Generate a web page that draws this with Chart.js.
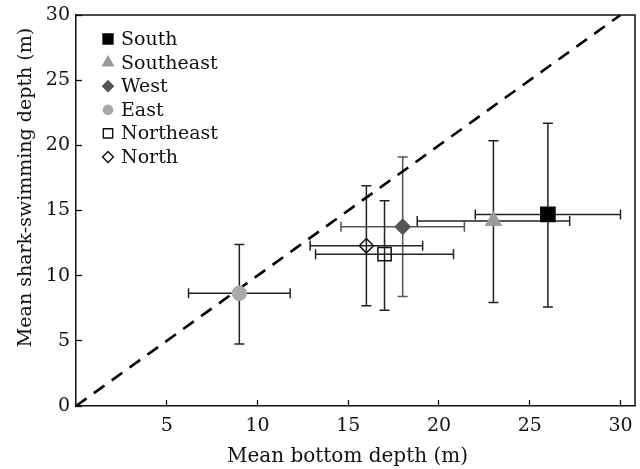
<!DOCTYPE html>
<html>
<head>
  <title>Shark swimming depth vs bottom depth</title>
  <script src="https://cdn.jsdelivr.net/npm/chart.js"></script>
  <style>
    body {
      margin: 0;
      background: white;
    }
    #wrap {
      width: 640px;
      height: 469px;
    }
  </style>
</head>
<body>
  <div id="wrap"><canvas id="chart" width="640" height="469"></canvas></div>

  <script>
    // values (metres)
    const regions = ["South", "Southeast", "West", "East", "Northeast", "North"];
    const bottomDepth = [26.0, 23.0, 18.0, 9.0, 17.0, 16.0];
    const swimDepth = [14.7, 14.2, 13.75, 8.65, 11.65, 12.3];
    const bottomLow = [22.0, 18.8, 14.6, 6.2, 13.2, 12.9];
    const bottomHigh = [30.0, 27.2, 21.4, 11.8, 20.8, 19.1];
    const swimLow = [7.6, 7.95, 8.4, 4.75, 7.35, 7.7];
    const swimHigh = [21.7, 20.35, 19.1, 12.4, 15.75, 16.9];
    const identityLine = [0, 30];
    const xTicks = [5, 10, 15, 20, 25, 30];
    const yTicks = [0, 5, 10, 15, 20, 25, 30];

    const FONT = '"DejaVu Serif", "Liberation Serif", serif';
    const INK = "#111";

    // marker look per region: chart radius and legend radius
    const markers = {
      South:     { style: "rect",     fill: "#000",          line: "#000",    r: 10,  lr: 7 },
      Southeast: { style: "triangle", fill: "#9b9b9b",       line: "#9b9b9b", r: 8.7, lr: 6.2 },
      West:      { style: "rectRot",  fill: "#555",          line: "#555",    r: 7.4, lr: 5.4 },
      East:      { style: "circle",   fill: "#a9a9a9",       line: "#a9a9a9", r: 6.9, lr: 4.6 },
      Northeast: { style: "rect",     fill: "rgba(0,0,0,0)", line: INK,       r: 9.4, lr: 6.6 },
      North:     { style: "rectRot",  fill: "rgba(0,0,0,0)", line: INK,       r: 7.2, lr: 5.4 }
    };
    const barColor = { West: "#555" };

    function drawMarker(ctx, m, x, y, r) {
      ctx.beginPath();
      if (m.style === "rect") {
        const s = r * Math.SQRT1_2;
        ctx.rect(x - s, y - s, 2 * s, 2 * s);
      } else if (m.style === "rectRot") {
        ctx.moveTo(x - r, y); ctx.lineTo(x, y - r); ctx.lineTo(x + r, y); ctx.lineTo(x, y + r);
        ctx.closePath();
      } else if (m.style === "triangle") {
        for (let k = 0; k < 3; k++) {
          const a = k * 2 * Math.PI / 3;
          const px = x + Math.sin(a) * r, py = y - Math.cos(a) * r;
          if (k === 0) ctx.moveTo(px, py); else ctx.lineTo(px, py);
        }
        ctx.closePath();
      } else {
        ctx.arc(x, y, r, 0, 2 * Math.PI);
      }
      ctx.fillStyle = m.fill;
      ctx.strokeStyle = m.line;
      ctx.lineWidth = 1.4;
      ctx.fill();
      ctx.stroke();
    }

    // box around the plot (top and right sides)
    const frame = {
      id: "frame",
      afterDraw(chart) {
        const { ctx, chartArea: a } = chart;
        ctx.save();
        ctx.strokeStyle = INK;
        ctx.lineWidth = 1.5;
        ctx.beginPath();
        ctx.moveTo(a.left, a.top);
        ctx.lineTo(a.right, a.top);
        ctx.lineTo(a.right, a.bottom);
        ctx.stroke();
        ctx.restore();
      }
    };

    // horizontal and vertical error bars with caps
    const errorBars = {
      id: "errorBars",
      beforeDatasetsDraw(chart) {
        const { ctx, scales: { x, y } } = chart;
        const cap = 5;
        ctx.save();
        ctx.lineWidth = 1.5;
        regions.forEach((name, i) => {
          const px = x.getPixelForValue(bottomDepth[i]);
          const py = y.getPixelForValue(swimDepth[i]);
          const x0 = x.getPixelForValue(bottomLow[i]);
          const x1 = x.getPixelForValue(bottomHigh[i]);
          const y0 = y.getPixelForValue(swimLow[i]);
          const y1 = y.getPixelForValue(swimHigh[i]);
          ctx.strokeStyle = barColor[name] || "#222";
          ctx.beginPath();
          ctx.moveTo(x0, py); ctx.lineTo(x1, py);
          ctx.moveTo(x0, py - cap); ctx.lineTo(x0, py + cap);
          ctx.moveTo(x1, py - cap); ctx.lineTo(x1, py + cap);
          ctx.moveTo(px, y0); ctx.lineTo(px, y1);
          ctx.moveTo(px - cap, y0); ctx.lineTo(px + cap, y0);
          ctx.moveTo(px - cap, y1); ctx.lineTo(px + cap, y1);
          ctx.stroke();
        });
        ctx.restore();
      }
    };

    // legend in the top-left corner of the plot
    const legendBox = {
      id: "legendBox",
      afterDraw(chart) {
        const { ctx, chartArea: a } = chart;
        ctx.save();
        ctx.font = "19px " + FONT;
        ctx.textBaseline = "middle";
        regions.forEach((name, i) => {
          const ly = a.top + 24 + i * 23.6;
          drawMarker(ctx, markers[name], a.left + 32, ly, markers[name].lr);
          ctx.fillStyle = INK;
          ctx.fillText(name, a.left + 45, ly + 1);
        });
        ctx.restore();
      }
    };

    // axis titles
    const axisTitles = {
      id: "axisTitles",
      afterDraw(chart) {
        const { ctx } = chart;
        ctx.save();
        ctx.fillStyle = INK;
        ctx.textAlign = "center";
        ctx.textBaseline = "alphabetic";
        ctx.font = "20px " + FONT;
        ctx.fillText("Mean bottom depth (m)", 347.5, 462);
        ctx.font = "19px " + FONT;
        ctx.translate(31, 187.5);
        ctx.rotate(-Math.PI / 2);
        ctx.fillText("Mean shark-swimming depth (m)", 0, 0);
        ctx.restore();
      }
    };

    const pointSets = regions.map((name, i) => ({
      label: name,
      data: [{ x: bottomDepth[i], y: swimDepth[i] }],
      pointStyle: markers[name].style,
      pointRadius: markers[name].r,
      backgroundColor: markers[name].fill,
      borderColor: markers[name].line,
      borderWidth: 1.5,
      order: 1
    }));

    new Chart(document.getElementById("chart"), {
      type: "scatter",
      data: {
        datasets: [
          ...pointSets,
          {
            type: "line",
            label: "1:1",
            data: identityLine.map(v => ({ x: v, y: v })),
            borderColor: "#000",
            borderWidth: 2.6,
            borderDash: [13, 9],
            pointRadius: 0,
            fill: false,
            order: 10
          }
        ]
      },
      options: {
        responsive: false,
        animation: false,
        events: [],
        layout: { autoPadding: false, padding: { top: 15, right: 5, left: 0, bottom: 0 } },
        plugins: {
          legend: { display: false },
          tooltip: { enabled: false }
        },
        scales: {
          x: {
            type: "linear",
            min: 0,
            max: 30.8,
            afterBuildTicks: s => { s.ticks = xTicks.map(v => ({ value: v })); },
            ticks: {
              color: INK,
              padding: 15,
              maxRotation: 0,
              font: { family: FONT, size: 19 }
            },
            grid: { drawOnChartArea: false, tickLength: -6, color: INK, tickWidth: 1.3 },
            border: { display: true, color: INK, width: 1.5 },
            afterFit: s => {
              s.height = 63;
              s.paddingLeft = 0;
              s.paddingRight = 0;
            }
          },
          y: {
            type: "linear",
            min: 0,
            max: 30,
            afterBuildTicks: s => { s.ticks = yTicks.map(v => ({ value: v })); },
            ticks: {
              color: INK,
              padding: 12,
              font: { family: FONT, size: 19 }
            },
            grid: { drawOnChartArea: false, tickLength: -6, color: INK, tickWidth: 1.3 },
            border: { display: true, color: INK, width: 1.5 },
            afterFit: s => {
              s.width = 76;
              s.paddingTop = 0;
              s.paddingBottom = 0;
            }
          }
        }
      },
      plugins: [frame, errorBars, legendBox, axisTitles]
    });
  </script>
</body>
</html>
